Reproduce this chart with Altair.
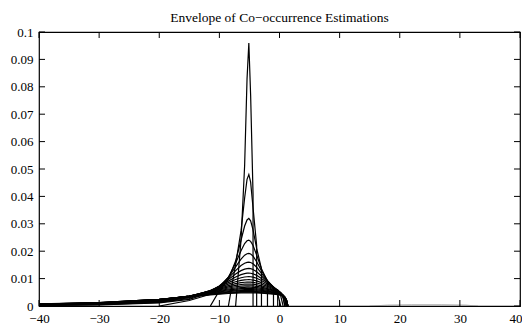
import altair as alt
import pandas as pd

N = None
# shared x grid of the estimation curves
X_GRID = [-40, -30, -20, -15, -11.5, -10, -8.5, -7.3, -6.4, -5.8, -5.4, -5.1,
          -4.8, -4.4, -3.8, -3.0, -2.0, -1.0, -0.3, 0.2, 0.6, 0.9, 1.15, 1.4]

# one y list per estimation curve (None = outside the curve's support)
CURVES = [
    [N, N, N, N, N, N, N, 0, 0.024, 0.0513, 0.0828, 0.096, 0.0768, 0.0407, N, N, N, N, N, N, N, N, N, N],
    [N, N, N, N, N, N, 0, 0.0152, 0.0274, 0.0394, 0.0462, 0.048, 0.0452, 0.0358, 0.0221, N, N, N, N, N, N, N, N, N],
    [N, N, N, N, 0, 0.0056, 0.0098, 0.0164, 0.024, 0.0292, 0.0314, 0.032, 0.0311, 0.0278, 0.021, 0.0136, N, N, N, N, N, N, N, N],
    [N, N, 0, 0.002, 0.0043, 0.0065, 0.0105, 0.0156, 0.0202, 0.0228, 0.0238, 0.024, 0.0236, 0.0221, 0.0186, 0.0136, 0.009, N, N, N, N, N, N, N],
    [0.00022, 0.00043, 0.00114, 0.00241, 0.00491, 0.00709, 0.01054, 0.01429, 0.01714, 0.01855, 0.01908, 0.0192, 0.019, 0.01821, 0.01616, 0.01289, 0.00929, 0.00669, N, N, N, N, N, N],
    [0.00026, 0.00051, 0.00134, 0.00274, 0.00529, 0.00732, 0.01018, 0.01291, 0.01477, 0.01562, 0.01593, 0.016, 0.01589, 0.01542, 0.01416, 0.01194, 0.00919, 0.00697, 0.00576, N, N, N, N, N],
    [0.0003, 0.00058, 0.00151, 0.003, 0.00551, 0.00732, 0.00965, 0.01165, 0.01291, 0.01346, 0.01365, 0.0137, 0.01363, 0.01333, 0.0125, 0.01096, 0.00887, 0.00687, 0.00443, 0, N, N, N, N],
    [0.000345, 0.000659, 0.00167, 0.00323, 0.00561, 0.0072, 0.00908, 0.01058, 0.01146, 0.01184, 0.01197, 0.012, 0.01195, 0.01175, 0.01118, 0.01007, 0.00847, 0.00694, 0.0055, 0.00368, 0, N, N, N],
    [0.000386, 0.000733, 0.00182, 0.0034, 0.00563, 0.00701, 0.00853, 0.00968, 0.01032, 0.01059, 0.01068, 0.0107, 0.01067, 0.01052, 0.01011, 0.0093, 0.00805, 0.00679, 0.00586, 0.00461, 0.00304, 0, N, N],
    [0.000424, 0.000799, 0.00194, 0.0035, 0.00556, 0.00673, 0.00796, 0.00884, 0.00932, 0.00952, 0.00958, 0.0096, 0.00958, 0.00947, 0.00917, 0.00855, 0.00758, 0.00654, 0.00574, 0.00456, 0.00303, 0, N, N],
    [0.000462, 0.000864, 0.00205, 0.00358, 0.00545, 0.00645, 0.00746, 0.00815, 0.00852, 0.00867, 0.00872, 0.00873, 0.00871, 0.00863, 0.0084, 0.00793, 0.00715, 0.0063, 0.00571, 0.00494, 0.00387, 0.00264, 0, N],
    [0.000499, 0.000925, 0.00214, 0.00362, 0.00531, 0.00617, 0.007, 0.00755, 0.00784, 0.00795, 0.00799, 0.008, 0.00799, 0.00793, 0.00775, 0.00737, 0.00675, 0.00604, 0.00554, 0.00483, 0.00381, 0.00261, 0, N],
    [0.000534, 0.000981, 0.00221, 0.00363, 0.00516, 0.00589, 0.00658, 0.00702, 0.00725, 0.00734, 0.00737, 0.00738, 0.00737, 0.00732, 0.00718, 0.00688, 0.00637, 0.00578, 0.00535, 0.0047, 0.00372, 0.00256, 0, N],
    [0.000569, 0.00104, 0.00228, 0.00363, 0.005, 0.00563, 0.00621, 0.00657, 0.00676, 0.00683, 0.00686, 0.00686, 0.00685, 0.00681, 0.0067, 0.00646, 0.00604, 0.00554, 0.00517, 0.00456, 0.00363, 0.00251, 0, N],
    [0.000603, 0.00109, 0.00232, 0.00361, 0.00483, 0.00538, 0.00587, 0.00617, 0.00632, 0.00638, 0.0064, 0.0064, 0.0064, 0.00636, 0.00627, 0.00607, 0.00572, 0.0053, 0.00498, 0.00466, 0.00404, 0.0033, 0.00239, 0],
    [0.000634, 0.00113, 0.00236, 0.00357, 0.00467, 0.00514, 0.00556, 0.00581, 0.00593, 0.00598, 0.006, 0.006, 0.006, 0.00597, 0.00589, 0.00573, 0.00544, 0.00508, 0.0048, 0.00451, 0.00392, 0.00321, 0.00233, 0],
    [0.000665, 0.00117, 0.00239, 0.00353, 0.00451, 0.00492, 0.00528, 0.00549, 0.00559, 0.00563, 0.00565, 0.00565, 0.00565, 0.00562, 0.00556, 0.00542, 0.00517, 0.00486, 0.00463, 0.00436, 0.00381, 0.00313, 0.00227, 0],
    [0.000694, 0.00121, 0.0024, 0.00347, 0.00435, 0.00471, 0.00501, 0.00519, 0.00528, 0.00532, 0.00533, 0.00533, 0.00533, 0.00531, 0.00525, 0.00514, 0.00492, 0.00466, 0.00445, 0.00421, 0.00369, 0.00303, 0.00221, 0],
    [0.000722, 0.00125, 0.00241, 0.00341, 0.0042, 0.00452, 0.00478, 0.00493, 0.00501, 0.00504, 0.00505, 0.00505, 0.00505, 0.00503, 0.00499, 0.00488, 0.0047, 0.00447, 0.00429, 0.00407, 0.00357, 0.00295, 0.00215, 0],
    [0.000748, 0.00128, 0.00242, 0.00334, 0.00406, 0.00434, 0.00457, 0.0047, 0.00477, 0.00479, 0.0048, 0.0048, 0.0048, 0.00478, 0.00474, 0.00466, 0.0045, 0.0043, 0.00414, 0.00394, 0.00346, 0.00286, 0.00209, 0],
]
# curves whose support ends with a vertical drop to zero
DROP_END = [True, True, True, True, True, True] + [False] * 14

# small far-right estimate
BUMP_X = [15, 18, 22, 27, 31, 33]
BUMP_Y = [0, 0.0003, 0.0004, 0.0004, 0.0003, 0]

X_TICKS = [-40, -30, -20, -10, 0, 10, 20, 30, 40]
Y_TICKS = [0, 0.01, 0.02, 0.03, 0.04, 0.05, 0.06, 0.07, 0.08, 0.09, 0.1]

W, H = 481, 274
FONT = "Liberation Serif"

rows = []
for k, ys in enumerate(CURVES):
    pts = [(x, y) for x, y in zip(X_GRID, ys) if y is not None]
    if DROP_END[k]:
        pts.append((pts[-1][0], 0.0))
    for j, (x, y) in enumerate(pts):
        rows.append({"x": x, "y": y, "curve": k, "o": j})
df = pd.DataFrame(rows)
bump = pd.DataFrame({"x": BUMP_X, "y": BUMP_Y, "o": list(range(len(BUMP_X)))})
xt = pd.DataFrame({"x": X_TICKS})
yt = pd.DataFrame({"y": Y_TICKS})

xs = alt.Scale(domain=[-40, 40], nice=False, zero=False)
ys_ = alt.Scale(domain=[0, 0.1], nice=False)
xaxis = alt.Axis(values=X_TICKS, format="d", title=None, ticks=False, domain=False,
                 grid=False, labelFont=FONT, labelFontSize=13, labelPadding=6,
                 labelColor="black", labelFlush=False, labelOverlap=False,
                 labelAlign=alt.expr("datum.value == 40 ? 'right' : 'center'"),
                 labelOffset=alt.expr("datum.value == 40 ? 2 : 0"))
yaxis = alt.Axis(values=Y_TICKS, format="~g", title=None, ticks=False, domain=False,
                 grid=False, labelFont=FONT, labelFontSize=13, labelPadding=6,
                 labelColor="black", labelFlush=False, labelOverlap=False)

X = alt.X("x:Q", scale=xs, axis=xaxis)
Y = alt.Y("y:Q", scale=ys_, axis=yaxis)

lines = alt.Chart(df).mark_line(color="black", strokeWidth=1.2, clip=True).encode(
    x=X, y=Y, detail="curve:N", order="o:Q")
bump_line = alt.Chart(bump).mark_line(color="#999999", strokeWidth=1, clip=True).encode(
    x=X, y=Y, order="o:Q")

TL = 6
bot = alt.Chart(xt).mark_rule(color="black", strokeWidth=1).encode(
    x=X, y=alt.value(H), y2=alt.value(H - TL))
top = alt.Chart(xt).mark_rule(color="black", strokeWidth=1).encode(
    x=X, y=alt.value(0), y2=alt.value(TL))
left = alt.Chart(yt).mark_rule(color="black", strokeWidth=1).encode(
    y=Y, x=alt.value(0), x2=alt.value(TL))
right = alt.Chart(yt).mark_rule(color="black", strokeWidth=1).encode(
    y=Y, x=alt.value(W), x2=alt.value(W - TL))

chart = alt.layer(bump_line, lines, bot, top, left, right).properties(
    width=W, height=H,
    title=alt.TitleParams("Envelope of Co\u2212occurrence Estimations", font=FONT,
                          fontSize=13.5, fontWeight="normal", color="black",
                          offset=2),
    autosize=alt.AutoSizeParams(type="none"),
    padding={"left": 31, "top": 24, "right": 2, "bottom": 19},
).configure_view(stroke="black", strokeWidth=1.2)

chart.save("out.html", embed_options={"renderer": "svg", "actions": False})
